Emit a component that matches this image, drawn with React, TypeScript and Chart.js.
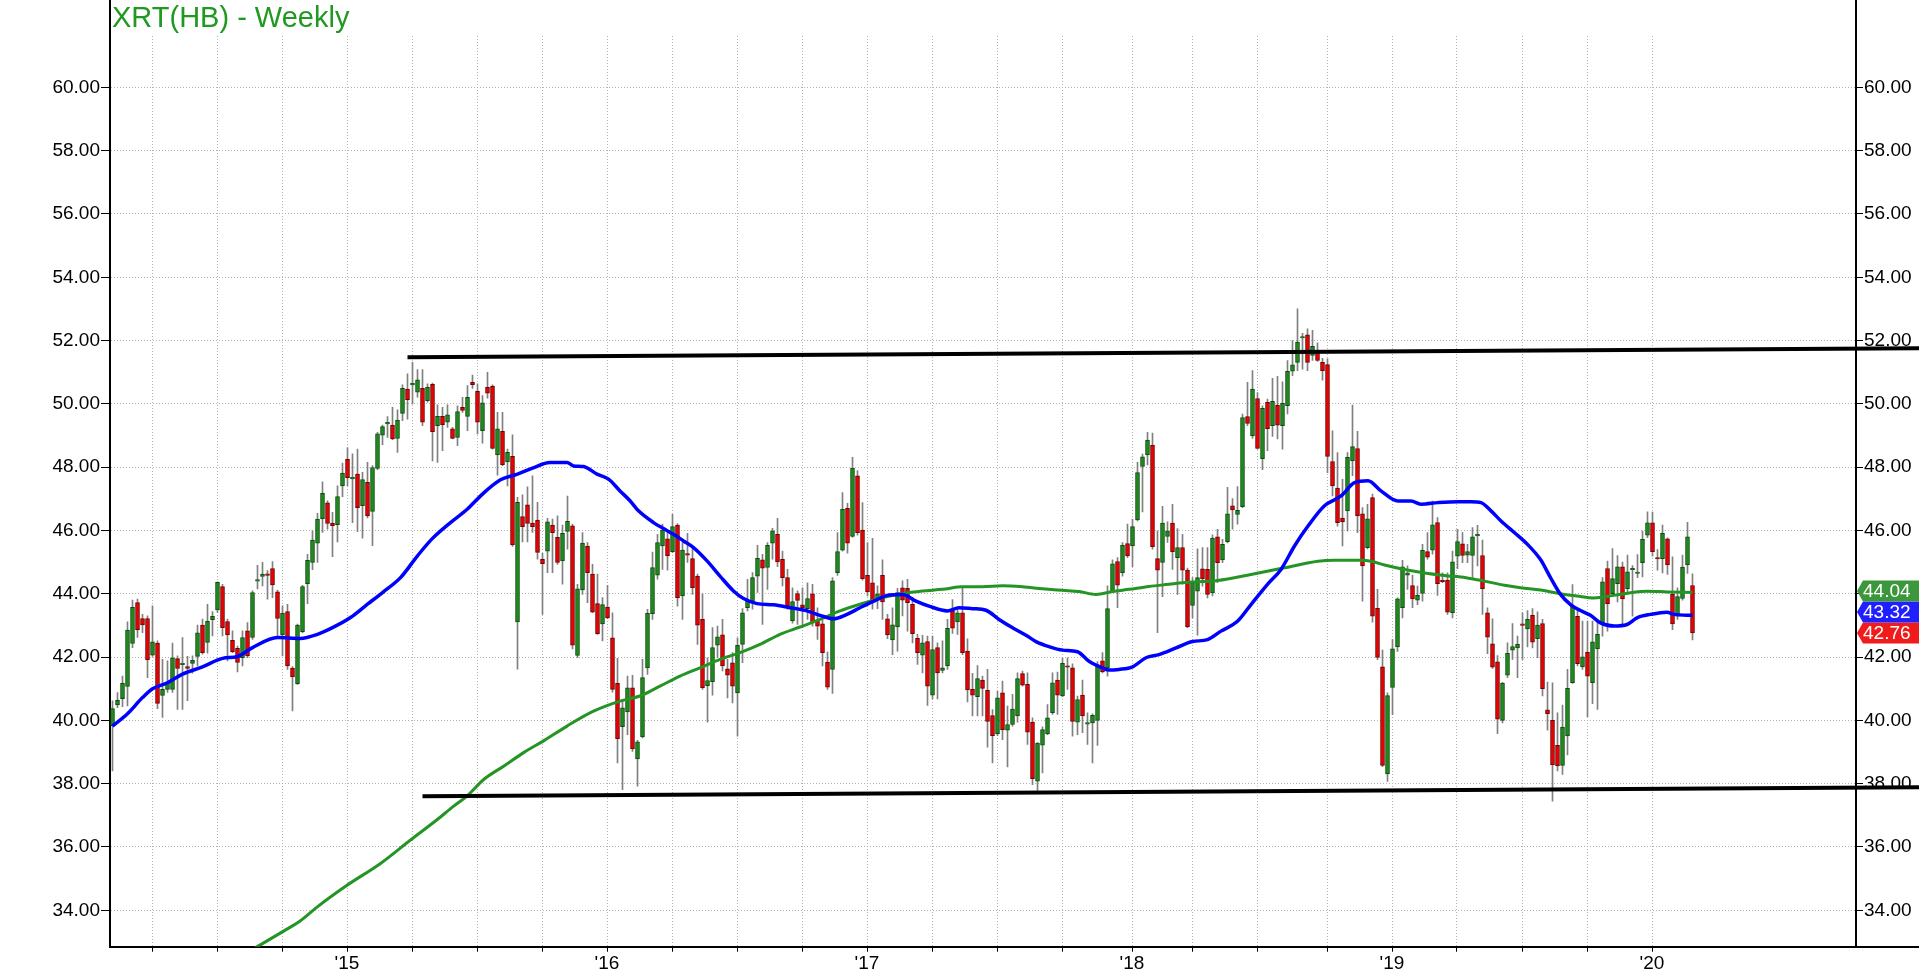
import React, { useEffect, useRef } from 'react';
import { Chart, registerables } from 'chart.js';

Chart.register(...registerables);

const FONT = '"Liberation Sans", Arial, Helvetica, sans-serif';
const titleText = 'XRT(HB) - Weekly';

// weekly bars: first bar is the week of 3 Feb 2014
const firstWeekStart = Date.UTC(2014, 1, 3);

const opens = [
  39.83,40.49,40.69,41.07,42.43,43.72,43.22,43.22,42.06,42.44,
  40.79,40.98,40.98,41.95,41.76,41.70,41.80,42.02,43.01,42.46,
  43.18,43.49,44.23,43.12,42.53,42.28,41.98,42.83,42.62,44.40,
  44.55,44.60,44.80,44.06,42.70,43.44,41.65,41.16,42.80,44.32,
  44.99,45.60,46.37,46.87,46.23,46.18,47.41,48.25,47.63,47.78,
  46.78,47.52,46.60,47.96,49.01,49.37,49.33,48.91,49.70,50.47,
  50.60,50.37,50.49,50.10,50.62,49.31,49.61,49.42,49.21,48.94,
  49.89,49.60,50.68,50.40,49.15,50.52,50.56,48.39,49.13,48.17,
  48.34,43.11,46.44,46.81,46.23,46.33,45.09,45.35,46.17,45.78,
  45.04,45.97,46.15,42.05,44.12,45.51,44.62,43.69,43.05,43.58,
  42.61,41.17,39.80,40.27,41.03,38.78,39.48,41.66,43.37,44.59,
  45.51,45.74,45.33,46.17,43.93,45.25,45.11,44.56,43.19,41.10,
  41.22,42.38,42.70,41.63,41.82,40.87,42.40,43.56,43.77,44.56,
  45.07,44.83,45.60,45.88,45.09,44.51,43.14,44.01,43.65,43.53,
  44.00,43.16,43.05,41.84,41.61,44.67,45.38,46.70,45.81,47.73,
  46.01,44.58,44.35,43.80,44.58,43.21,42.54,42.95,44.19,44.17,
  43.67,42.59,42.06,42.49,40.80,42.30,41.58,41.72,43.45,43.11,
  43.40,42.19,40.98,40.75,41.27,40.95,40.15,39.58,40.87,39.69,
  39.87,40.14,41.48,41.14,39.95,38.08,39.22,39.57,40.24,41.27,
  40.77,41.71,41.66,39.94,40.80,39.88,39.92,40.00,41.88,41.66,
  44.09,45.02,44.67,45.59,45.51,46.33,48.02,48.39,48.70,45.11,
  44.99,45.81,46.23,45.14,45.46,44.75,43.63,44.08,44.79,44.77,
  44.03,45.80,45.07,45.65,46.78,46.51,46.75,49.60,48.99,50.17,
  48.27,50.05,49.31,49.96,49.31,49.94,51.03,51.31,52.08,52.18,
  51.53,51.63,51.31,51.24,48.18,47.34,46.39,46.62,48.20,48.59,
  46.53,45.46,47.04,43.54,41.69,38.31,41.04,42.32,43.56,44.59,
  44.26,43.80,44.01,45.33,45.38,46.25,44.42,44.43,43.40,45.19,
  45.58,45.22,45.21,45.84,45.21,43.40,42.42,41.85,40.00,41.43,
  42.22,42.29,43.03,42.89,43.32,42.58,43.06,40.33,40.00,39.21,
  38.58,39.51,41.19,43.29,41.69,42.16,41.19,42.26,43.08,44.80,
  44.00,44.32,44.85,44.16,44.76,44.64,44.98,45.85,46.24,45.12,
  45.11,45.74,43.98,43.29,43.85,44.91,44.26,
];

const highs = [
  40.62,40.88,41.40,43.11,43.80,43.83,43.35,43.30,43.62,42.51,
  41.93,41.88,42.44,42.04,42.62,42.02,42.04,43.01,43.20,43.67,
  43.44,44.38,44.30,43.20,42.83,42.35,42.83,43.09,44.09,44.90,
  44.99,44.73,45.02,44.12,43.62,43.67,41.70,43.04,44.27,45.25,
  45.99,46.54,47.54,46.94,46.57,47.41,48.13,48.61,48.42,48.57,
  47.84,48.15,48.05,49.10,49.33,49.60,49.89,49.81,50.60,50.95,
  51.31,51.08,51.08,50.63,50.66,49.97,49.89,49.97,49.26,49.94,
  50.21,50.58,50.91,50.63,50.26,51.00,50.60,49.73,49.73,48.57,
  49.02,47.05,47.13,47.38,47.73,46.89,45.28,46.38,46.36,46.46,
  46.17,47.09,46.20,44.30,45.93,45.62,44.93,44.62,43.88,44.27,
  43.40,41.96,40.66,41.40,41.42,39.37,41.93,43.51,45.32,45.88,
  46.20,45.93,46.51,46.22,45.62,45.91,45.41,44.62,44.00,41.98,
  42.93,42.98,43.19,41.93,42.14,42.61,43.53,44.46,44.67,45.53,
  45.25,45.62,46.07,46.38,45.35,44.77,44.19,44.09,44.19,44.35,
  44.30,43.56,43.16,42.16,44.51,45.93,47.20,46.86,48.31,47.89,
  46.88,45.62,45.75,44.25,45.07,43.35,43.56,44.17,44.41,44.46,
  43.88,42.72,42.69,42.66,42.66,42.45,42.51,43.19,43.82,43.51,
  44.19,42.58,41.49,41.73,41.40,41.61,40.34,40.92,41.24,40.45,
  40.82,41.50,41.56,41.50,40.08,39.30,39.80,40.50,41.50,41.53,
  41.98,41.98,41.79,40.77,41.27,40.24,40.21,41.86,42.14,44.25,
  45.07,45.14,45.62,46.20,46.36,48.15,48.41,49.10,49.08,45.99,
  46.76,46.27,46.83,46.06,45.88,44.81,44.51,45.42,45.46,45.46,
  45.86,46.04,45.72,47.36,47.01,47.39,49.68,50.68,51.05,50.36,
  49.94,50.15,50.81,50.87,50.70,51.37,52.00,53.00,52.23,52.37,
  52.32,51.93,51.44,51.42,49.15,48.46,47.62,48.46,49.96,49.13,
  46.72,46.83,47.15,44.14,42.22,40.87,42.55,43.87,45.06,44.88,
  44.59,44.24,45.56,45.93,46.93,46.41,44.66,44.66,45.35,46.04,
  45.93,45.56,46.09,46.16,45.70,43.56,43.21,42.05,41.20,42.45,
  43.06,42.66,43.40,43.47,43.53,43.43,43.19,41.21,41.19,40.24,
  40.48,41.61,44.29,43.47,43.14,43.14,43.14,43.19,44.51,45.03,
  45.43,45.21,45.00,45.22,44.89,45.24,45.98,46.59,46.58,45.40,
  46.17,45.77,45.17,44.19,45.22,46.26,44.63,
];

const lows = [
  38.40,40.40,40.43,40.46,42.30,42.62,42.77,41.35,42.02,40.37,
  40.09,40.88,40.88,40.35,40.35,40.62,41.49,41.72,42.09,42.12,
  42.67,43.41,42.67,41.88,42.14,41.53,41.72,41.98,42.56,44.15,
  44.25,43.83,43.88,42.67,42.04,41.61,40.30,41.14,42.77,43.69,
  44.76,44.99,45.94,46.04,45.17,45.64,47.07,47.41,46.25,45.96,
  45.76,46.40,45.52,47.92,48.71,48.94,48.87,48.47,49.47,49.52,
  50.00,50.21,49.31,50.05,48.20,48.15,48.52,49.26,48.89,48.68,
  49.73,49.15,50.49,49.05,48.76,50.18,48.57,47.75,48.05,47.41,
  45.50,41.62,45.64,45.64,45.94,45.09,43.35,44.67,44.67,44.93,
  44.30,45.41,42.26,41.98,43.98,43.72,43.40,42.72,42.51,43.21,
  40.89,38.66,37.81,39.55,39.02,37.92,39.45,41.45,43.19,44.46,
  44.77,44.75,45.30,43.61,43.19,44.99,43.98,42.40,40.98,39.94,
  40.80,41.98,41.56,40.71,40.55,39.50,41.82,43.46,43.51,44.04,
  43.03,44.14,45.09,44.86,44.25,43.51,43.07,43.03,42.93,43.19,
  42.98,42.56,41.72,40.98,40.85,44.58,45.35,45.28,45.78,45.85,
  44.43,43.93,43.51,43.53,43.19,42.58,42.08,42.19,43.30,42.82,
  42.45,41.77,41.50,40.47,40.68,40.68,41.50,41.61,42.75,42.72,
  42.08,40.58,40.14,40.14,40.14,39.15,38.66,39.52,39.39,38.53,
  39.82,39.94,41.08,39.24,37.97,37.79,38.34,39.55,40.19,40.19,
  40.74,40.98,39.50,39.55,39.61,39.24,38.66,39.21,41.50,41.40,
  44.04,43.56,44.56,45.14,44.86,46.30,46.59,48.07,45.41,42.77,
  43.91,45.62,44.77,43.98,44.30,42.93,43.24,42.69,44.24,43.87,
  43.93,44.35,44.98,45.61,46.04,46.20,46.72,49.31,48.91,48.57,
  47.92,48.52,48.97,48.89,48.57,49.68,50.89,51.05,51.10,51.05,
  51.37,51.34,50.75,47.83,47.09,46.14,45.51,45.98,47.73,45.93,
  43.77,45.42,43.10,41.92,38.54,38.07,40.18,42.18,43.24,44.14,
  43.56,43.66,43.77,45.09,45.25,43.95,44.35,43.35,43.24,44.79,
  44.98,44.98,44.51,44.88,43.35,42.11,41.64,39.58,39.92,41.35,
  41.93,41.35,41.93,42.32,42.29,41.98,40.77,39.69,37.45,38.40,
  38.29,38.91,41.17,41.72,41.61,40.12,40.53,40.35,42.66,42.82,
  43.93,43.74,42.98,44.03,43.29,44.51,44.53,45.77,45.19,44.75,
  44.66,44.61,42.87,43.19,43.80,44.64,42.54,
];

const closes = [
  40.37,40.63,41.17,42.85,43.57,42.86,43.02,41.91,42.48,40.54,
  40.98,41.19,41.98,41.64,41.80,41.64,41.90,42.77,42.14,43.13,
  43.29,44.36,42.93,42.70,42.17,41.83,42.62,42.04,44.04,44.44,
  44.62,44.58,44.28,43.22,43.39,41.72,41.37,43.01,44.23,45.06,
  45.70,46.36,47.17,46.22,46.15,47.07,47.81,47.67,47.66,46.72,
  47.61,46.46,47.99,49.05,49.28,49.40,48.89,49.49,50.49,50.13,
  50.63,50.76,49.42,50.52,49.12,49.61,49.34,49.65,48.91,49.76,
  49.79,50.21,50.61,49.42,50.03,50.34,48.59,49.21,48.08,48.47,
  45.54,46.89,46.12,46.22,46.12,45.31,44.95,46.27,45.93,44.99,
  45.91,46.29,42.38,44.16,45.60,44.67,43.42,42.74,43.66,43.24,
  40.98,39.42,40.40,41.03,39.10,39.32,41.35,43.38,44.83,45.62,
  46.01,45.20,46.12,43.88,45.38,45.22,44.19,43.01,41.03,41.26,
  42.30,42.64,41.72,41.43,41.08,42.37,43.40,43.77,44.51,45.12,
  44.81,45.53,45.99,45.01,44.51,43.61,43.75,43.79,43.56,43.85,
  43.12,42.98,42.14,41.05,44.41,45.33,46.67,45.60,47.97,45.93,
  44.48,44.06,43.77,44.00,43.74,42.70,43.02,44.04,43.80,43.72,
  42.74,42.14,42.45,41.08,42.24,41.50,41.66,42.91,42.91,43.40,
  42.14,40.96,40.80,41.32,41.01,39.97,39.52,40.71,39.71,39.87,
  40.36,41.32,41.11,39.63,38.16,39.28,39.71,40.08,41.19,40.80,
  41.80,41.68,39.97,40.66,40.14,39.91,40.16,41.72,41.53,43.53,
  44.95,44.27,45.53,45.20,46.12,47.83,48.33,48.86,45.49,44.75,
  46.23,45.99,45.32,45.46,44.75,42.96,44.35,44.51,44.47,43.98,
  45.76,44.98,45.56,46.53,46.65,46.64,49.57,49.38,50.47,48.59,
  49.86,49.22,50.08,49.33,50.02,51.03,51.23,51.95,52.10,51.31,
  51.82,51.37,51.05,48.34,47.41,46.25,46.27,48.31,48.65,46.46,
  44.88,46.37,43.29,41.99,38.58,40.78,42.26,43.84,44.85,44.66,
  43.84,43.95,45.37,45.16,46.18,44.32,44.38,43.42,45.01,45.65,
  45.21,45.33,45.80,45.86,44.16,42.63,41.68,40.04,41.18,42.12,
  42.33,42.40,43.00,43.19,42.47,43.01,41.00,40.21,38.59,38.56,
  39.79,41.01,43.61,41.79,42.01,41.40,42.48,42.72,44.38,43.68,
  44.48,44.85,43.84,44.69,44.78,44.67,45.72,46.24,45.33,45.10,
  45.91,44.91,43.05,43.91,44.84,45.80,42.76,
];

// blue moving average as [week index, price]
const blueAverage: [number, number][] = [
  [0,39.82],[3,40.21],[6,40.72],[8,41.00],[11,41.19],[14,41.46],[18,41.69],[22,41.96],[25,42.02],[28,42.30],
  [33,42.62],[37.6,42.59],[41,42.72],[44,42.93],[47.6,43.25],[51,43.67],[54,44.04],[57.6,44.51],[61,45.20],[64,45.75],
  [67.6,46.25],[71,46.68],[74,47.15],[77.6,47.60],[81,47.78],[84,47.97],[87.5,48.15],[90.9,48.15],[92.2,48.04],[94.2,48.02],
  [96.9,47.78],[99.2,47.62],[101.5,47.25],[103.5,46.94],[105.2,46.62],[108.2,46.25],[110.2,46.06],[112.2,45.88],[114.2,45.67],[116.2,45.46],
  [118.9,45.04],[121.5,44.56],[124.2,44.09],[126.2,43.85],[128.9,43.69],[132.2,43.65],[135.5,43.56],[138.9,43.46],[141.5,43.32],[144.2,43.21],
  [146.9,43.35],[149.5,43.56],[152.7,43.80],[155.3,43.96],[158,43.98],[160.7,43.77],[163.3,43.61],[167,43.46],[169.3,43.56],[172,43.53],
  [174.7,43.48],[177.3,43.19],[180,42.93],[182.7,42.69],[184.7,42.49],[187.3,42.33],[190,42.22],[193,42.17],[195.3,41.87],[198,41.66],
  [199.3,41.59],[201.3,41.61],[204,41.69],[206.7,41.98],[209.3,42.08],[212.7,42.29],[216,42.49],[219,42.55],[221.7,42.82],[225,43.13],
  [227.7,43.66],[231,44.30],[233.7,44.77],[236.4,45.51],[239.1,46.14],[242.4,46.78],[245.7,47.09],[248.4,47.51],[251.1,47.57],[253.7,47.25],
  [257.1,46.93],[259.7,46.93],[261.7,46.83],[265.1,46.88],[269.1,46.91],[271.7,46.91],[273.7,46.88],[275.7,46.62],[277.7,46.30],[280.4,45.93],
  [283,45.56],[285.6,45.08],[287.6,44.51],[289.6,43.98],[291.6,43.66],[293.6,43.47],[295.6,43.32],[297.6,43.08],[300.3,42.98],[302.9,43.03],
  [304.9,43.24],[307.6,43.35],[310.9,43.42],[312.3,43.35],[316,43.32],
];

// green (long) moving average as [week index, price]
const greenAverage: [number, number][] = [
  [28.6,32.82],[34.3,33.35],[37.6,33.67],[40.9,34.10],[46.9,34.79],[53.6,35.48],[59.6,36.22],[64.9,36.86],[68.3,37.30],[70.9,37.61],
  [74.3,38.14],[78.3,38.56],[82.3,38.99],[86.3,39.36],[90.9,39.82],[96.2,40.29],[101.5,40.61],[105.5,40.77],[109.5,41.08],[113.5,41.40],
  [117.5,41.66],[121.5,41.93],[125.5,42.14],[129.5,42.40],[133.5,42.72],[137.5,42.95],[141.5,43.19],[145.5,43.46],[149.5,43.67],[154,43.88],
  [158,44.01],[162,44.09],[166,44.14],[170,44.22],[174,44.22],[178,44.25],[182,44.22],[186,44.16],[190,44.11],[193.3,44.07],
  [196.7,43.98],[200,44.07],[203.3,44.14],[207.3,44.23],[211.3,44.30],[214,44.35],[221,44.42],[227.7,44.61],[234.4,44.82],[241.1,45.03],
  [244.4,45.06],[249.7,45.06],[251.7,45.03],[254.4,44.91],[258.4,44.77],[262.4,44.66],[266.4,44.58],[270.7,44.51],[274.4,44.40],[278.4,44.27],
  [281.6,44.19],[285.6,44.12],[289.6,44.00],[292.9,43.93],[296.3,43.87],[300.3,43.95],[304.3,44.05],[306.9,44.08],[310.9,44.06],[316,44.04],
];

// hand-drawn channel lines [week index, price]
const upperChannel: [number, number][] = [[59.0, 51.47], [362, 51.76]];
const lowerChannel: [number, number][] = [[62.0, 37.60], [362, 37.89]];

// last-value tags on the right axis
const tagValues = [44.04, 43.32, 42.76];
const tagColors = ['#3c963c', '#2020ff', '#f01c1c'];

const yTicks = [34, 36, 38, 40, 42, 44, 46, 48, 50, 52, 54, 56, 58, 60];
const yMin = 32.85;
const yMax = 62.76;

const yearLabels = ["'15", "'16", "'17", "'18", "'19", "'20"];
const labelYears = [2015, 2016, 2017, 2018, 2019, 2020];
const quarterMonths = [0, 3, 6, 9];

const GREEN_BODY = '#1e8a1e';
const GREEN_EDGE = '#0c4a0c';
const RED_BODY = '#e80000';
const RED_EDGE = '#6a0000';
const WICK = '#808080';
const GRID = '#b4b4b4';
const LABEL_SIZE = 19;

function buildQuarterTicks() {
  const weekMs = 7 * 864e5;
  const out: { value: number; label: string }[] = [];
  for (let y = 2014; y <= 2020; y++) {
    for (const m of quarterMonths) {
      if (y === 2014 && m < 3) continue;
      if (y === 2020 && m > 0) continue;
      const w = Math.floor((Date.UTC(y, m, 1) - firstWeekStart) / weekMs) - 0.1;
      const li = labelYears.indexOf(y);
      out.push({ value: w, label: m === 0 && li >= 0 ? yearLabels[li] : '' });
    }
  }
  return out;
}

export default function App() {
  const ref = useRef<HTMLCanvasElement>(null);

  useEffect(() => {
    document.documentElement.style.margin = '0';
    document.body.style.margin = '0';
    document.body.style.overflow = 'hidden';
    const canvas = ref.current;
    if (!canvas) return;

    Chart.defaults.font.family = FONT;
    Chart.defaults.color = '#000';

    const quarterTicks = buildQuarterTicks();
    const labelMap = new Map<string, string>();
    quarterTicks.forEach((t) => labelMap.set(t.value.toFixed(1), t.label));

    const bodies = opens.map((o, i) => ({ x: i, y: [o, closes[i]] }));
    const wicks = lows.map((l, i) => ({ x: i, y: [l, highs[i]] }));
    const up = opens.map((o, i) => closes[i] >= o);

    const TAG_H = 21;

    const overlay = {
      id: 'overlay',
      beforeDatasetsDraw(chart: any) {
        const { ctx, chartArea: a } = chart;
        ctx.save();
        ctx.fillStyle = '#ffffff';
        ctx.fillRect(a.left + 2, a.top, a.right - a.left - 4, 34);
        ctx.restore();
      },
      afterDraw(chart: any) {
        const { ctx, chartArea: a } = chart;
        const ys = chart.scales.y;
        ctx.save();
        // x axis line continues under the right price column
        ctx.strokeStyle = '#000';
        ctx.lineWidth = 2;
        ctx.beginPath();
        ctx.moveTo(a.right, Math.round(a.bottom));
        ctx.lineTo(chart.width, Math.round(a.bottom));
        ctx.stroke();

        // title
        ctx.font = `29px ${FONT}`;
        ctx.fillStyle = '#1f991f';
        ctx.textAlign = 'left';
        ctx.textBaseline = 'alphabetic';
        ctx.fillText(titleText, a.left + 2, 27);

        // last value tags
        const items = tagValues.map((v, k) => ({ v, color: tagColors[k], y: ys.getPixelForValue(v) }));
        items.sort((p, q) => q.y - p.y);
        for (let k = 1; k < items.length; k++) {
          items[k].y = Math.min(items[k].y, items[k - 1].y - TAG_H);
        }
        const x0 = a.right + 1;
        for (const it of items) {
          const top = it.y - TAG_H / 2;
          const bot = it.y + TAG_H / 2;
          ctx.beginPath();
          ctx.moveTo(x0, it.y);
          ctx.lineTo(x0 + 6, top);
          ctx.lineTo(chart.width, top);
          ctx.lineTo(chart.width, bot);
          ctx.lineTo(x0 + 6, bot);
          ctx.closePath();
          ctx.fillStyle = it.color;
          ctx.fill();
          ctx.fillStyle = '#ffffff';
          ctx.font = `${LABEL_SIZE}px ${FONT}`;
          ctx.textBaseline = 'middle';
          ctx.fillText(it.v.toFixed(2), x0 + 6, it.y + 1);
        }
        ctx.restore();
      },
    };

    const yCommon = {
      type: 'linear' as const,
      min: yMin,
      max: yMax,
      bounds: 'data' as const,
      beginAtZero: false,
      afterBuildTicks: (s: any) => {
        s.ticks = yTicks.map((v) => ({ value: v }));
      },
    };

    const chart = new Chart(canvas, {
      type: 'bar',
      data: {
        datasets: [
          {
            type: 'line',
            label: 'upper',
            data: upperChannel.map(([x, y]) => ({ x, y })),
            borderColor: '#000',
            borderWidth: 4,
            pointRadius: 0,
            clip: false as any,
            order: 0,
            xAxisID: 'x',
            yAxisID: 'y',
          },
          {
            type: 'line',
            label: 'lower',
            data: lowerChannel.map(([x, y]) => ({ x, y })),
            borderColor: '#000',
            borderWidth: 4,
            pointRadius: 0,
            clip: false as any,
            order: 0,
            xAxisID: 'x',
            yAxisID: 'y',
          },
          {
            type: 'line',
            label: 'blue MA',
            data: blueAverage.map(([x, y]) => ({ x, y })),
            borderColor: '#0000ff',
            borderWidth: 3.5,
            pointRadius: 0,
            cubicInterpolationMode: 'monotone',
            order: 1,
            xAxisID: 'x',
            yAxisID: 'y',
          },
          {
            type: 'line',
            label: 'green MA',
            data: greenAverage.map(([x, y]) => ({ x, y })),
            borderColor: '#249524',
            borderWidth: 3,
            pointRadius: 0,
            cubicInterpolationMode: 'monotone',
            order: 2,
            xAxisID: 'x',
            yAxisID: 'y',
          },
          {
            type: 'bar',
            label: 'bodies',
            data: bodies as any,
            backgroundColor: up.map((u) => (u ? GREEN_BODY : RED_BODY)),
            borderColor: up.map((u) => (u ? GREEN_EDGE : RED_EDGE)),
            borderWidth: 1,
            borderSkipped: false,
            barThickness: 4,
            minBarLength: 1.5,
            grouped: false,
            order: 3,
            xAxisID: 'x',
            yAxisID: 'y',
          },
          {
            type: 'bar',
            label: 'wicks',
            data: wicks as any,
            backgroundColor: WICK,
            borderWidth: 0,
            barThickness: 1,
            grouped: false,
            order: 4,
            xAxisID: 'x',
            yAxisID: 'y',
          },
        ] as any,
      },
      options: {
        animation: false,
        responsive: false,
        maintainAspectRatio: false,
        events: [],
        layout: { padding: 0 },
        plugins: {
          legend: { display: false },
          tooltip: { enabled: false },
          title: { display: false },
        },
        scales: {
          x: {
            type: 'linear',
            min: -0.5,
            max: 348.7,
            bounds: 'data',
            offset: false,
            afterBuildTicks: (s: any) => {
              s.ticks = quarterTicks.map((t) => ({ value: t.value }));
            },
            afterFit: (s: any) => {
              s.height = 26.3;
              s.paddingLeft = 0;
              s.paddingRight = 0;
            },
            ticks: {
              autoSkip: false,
              maxRotation: 0,
              minRotation: 0,
              padding: 1,
              color: '#000',
              font: { family: FONT, size: LABEL_SIZE },
              callback: (v: any) => labelMap.get(Number(v).toFixed(1)) ?? '',
            },
            grid: {
              offset: false,
              color: GRID,
              lineWidth: 1,
              tickLength: 5,
              tickColor: '#000',
              tickWidth: 1,
            },
            border: { display: true, color: '#000', width: 2, dash: [1, 2] },
          },
          y: {
            ...yCommon,
            position: 'left',
            afterFit: (s: any) => {
              s.width = 110;
              s.paddingTop = 0;
              s.paddingBottom = 0;
            },
            ticks: {
              padding: 1,
              color: '#000',
              font: { family: FONT, size: LABEL_SIZE },
              callback: (v: any) => Number(v).toFixed(2),
            },
            grid: {
              color: GRID,
              lineWidth: 1,
              tickLength: 9,
              tickColor: '#000',
              tickWidth: 1,
            },
            border: { display: true, color: '#000', width: 2, dash: [1, 2] },
          },
          yRight: {
            ...yCommon,
            position: 'right',
            afterFit: (s: any) => {
              s.width = 63;
              s.paddingTop = 0;
              s.paddingBottom = 0;
            },
            ticks: {
              padding: 1,
              color: '#000',
              font: { family: FONT, size: LABEL_SIZE },
              callback: (v: any) => Number(v).toFixed(2),
            },
            grid: {
              drawOnChartArea: false,
              tickLength: 7,
              tickColor: '#000',
              tickWidth: 1,
            },
            border: { display: true, color: '#000', width: 2 },
          },
        },
      } as any,
      plugins: [overlay],
    });

    return () => chart.destroy();
  }, []);

  return (
    <div style={{ width: 1919, height: 973, overflow: 'hidden', background: '#ffffff' }}>
      <canvas ref={ref} width={1919} height={973} style={{ display: 'block', width: 1919, height: 973 }} />
    </div>
  );
}
